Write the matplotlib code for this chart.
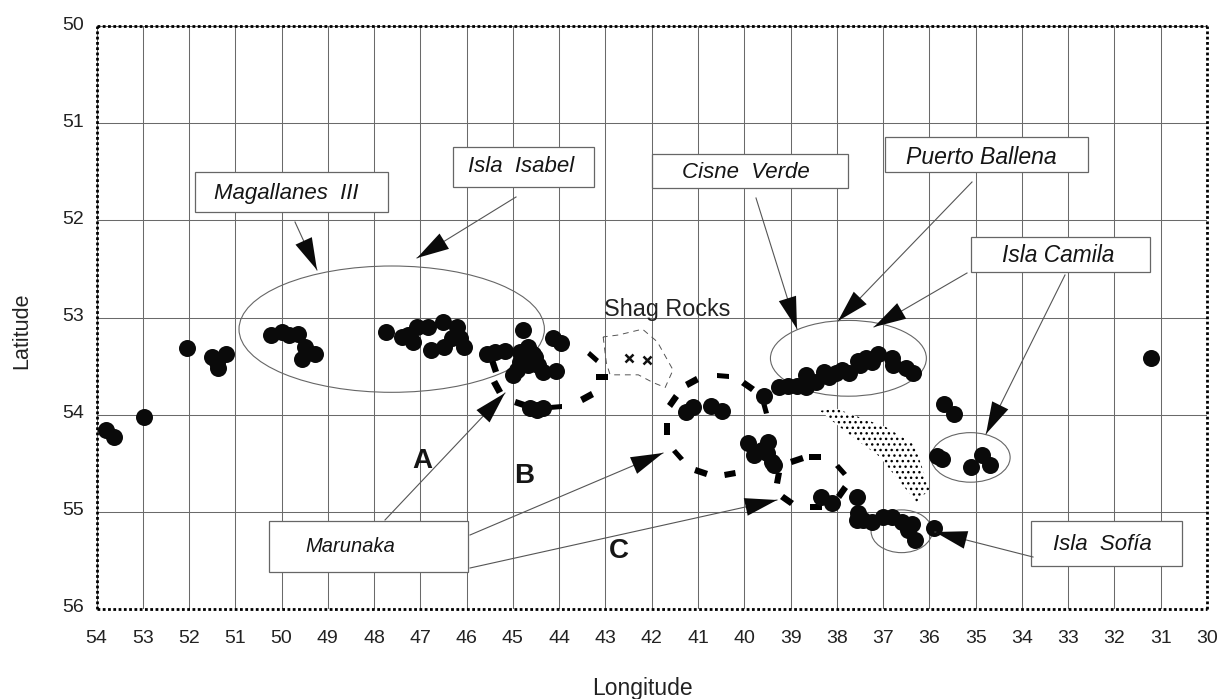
import matplotlib
matplotlib.use("Agg")
import numpy as np
import matplotlib.pyplot as plt
from matplotlib.patches import Ellipse, Polygon, Rectangle
from matplotlib.markers import MarkerStyle
from matplotlib.transforms import Affine2D, ScaledTranslation

plt.rcParams['font.family'] = ['Liberation Sans', 'DejaVu Sans']
W, H = 1221, 699

# --- data (longitude W, latitude S) ---
lon_ticks = list(range(54, 29, -1))
lat_ticks = list(range(50, 57))

west_lon = [53.79, 53.62, 52.97, 52.05, 51.50, 51.20, 51.38, 51.40]
west_lat = [54.16, 54.23, 54.02, 53.31, 53.41, 53.38, 53.52, 53.46]
g50_lon = [50.23, 49.99, 49.84, 49.65, 49.50, 49.28, 49.56]
g50_lat = [53.18, 53.15, 53.18, 53.17, 53.30, 53.38, 53.43]
g47_lon = [47.75, 47.40, 47.16, 47.27, 47.08, 46.84, 46.52, 46.21, 46.78, 46.49, 46.32, 46.15, 46.06]
g47_lat = [53.15, 53.20, 53.25, 53.18, 53.10, 53.10, 53.05, 53.10, 53.33, 53.30, 53.21, 53.21, 53.30]
g45_lon = [44.79, 45.57, 45.39, 45.18, 44.85, 44.68, 44.57, 44.85, 44.68, 45.00, 44.36, 44.08, 44.14, 43.97, 44.53, 44.92, 44.46, 44.64, 44.36, 44.49]
g45_lat = [53.13, 53.38, 53.36, 53.34, 53.36, 53.30, 53.38, 53.46, 53.49, 53.59, 53.56, 53.55, 53.21, 53.26, 53.41, 53.54, 53.49, 53.93, 53.93, 53.95]
g41_lon = [41.25, 41.10, 40.71, 40.49, 39.58]
g41_lat = [53.97, 53.92, 53.91, 53.96, 53.81]
cisne_lon = [39.24, 39.06, 38.87, 38.66, 38.66, 38.44, 38.27, 38.01, 38.16, 37.73, 37.88, 37.55, 37.36, 37.23, 37.12, 36.80, 36.78, 36.50, 36.35, 37.51]
cisne_lat = [53.72, 53.71, 53.71, 53.59, 53.72, 53.66, 53.56, 53.57, 53.61, 53.57, 53.54, 53.45, 53.42, 53.46, 53.38, 53.42, 53.49, 53.52, 53.57, 53.49]
east_lon = [35.68, 35.46, 35.83, 35.72, 34.86, 35.10, 34.69, 31.21]
east_lat = [53.89, 53.99, 54.43, 54.46, 54.41, 54.54, 54.52, 53.42]
g40_lon = [39.91, 39.48, 39.78, 39.50, 39.41, 39.35, 39.61]
g40_lat = [54.29, 54.28, 54.41, 54.39, 54.49, 54.52, 54.36]
sofia_lon = [38.35, 38.11, 37.57, 37.55, 37.44, 37.25, 37.01, 36.80, 36.60, 36.37, 36.47, 36.32, 35.89, 37.57]
sofia_lat = [54.85, 54.91, 54.85, 55.01, 55.08, 55.10, 55.05, 55.05, 55.10, 55.13, 55.19, 55.29, 55.17, 55.08]

route_lon = [45.41, 45.35, 43.28, 43.08, 43.41, 44.83, 44.08, 41.12, 41.53, 41.66, 41.44, 40.94, 40.31, 39.28, 38.87, 38.48, 37.92, 37.88, 39.07, 40.46, 39.91, 39.55, 38.44]
route_lat = [53.50, 53.72, 53.41, 53.61, 53.82, 53.89, 53.92, 53.66, 53.86, 54.15, 54.41, 54.59, 54.61, 54.65, 54.47, 54.44, 54.57, 54.80, 54.88, 53.60, 53.70, 53.93, 54.95]
route_ang = [-70, -60, -40, 0, 30, -20, 5, 30, 55, 90, -50, -20, 10, 80, 20, 0, -50, 55, -35, -5, -35, -75, 0]

shade_lon = [38.37, 38.00, 36.93, 36.32, 36.00, 36.28, 37.08, 37.77]
shade_lat = [53.96, 53.94, 54.13, 54.31, 54.77, 54.90, 54.43, 54.19]
shag_lon = [43.05, 42.98, 42.90, 42.29, 41.97, 41.71, 41.54, 41.88, 42.20, 42.72, 43.05]
shag_lat = [53.20, 53.47, 53.59, 53.59, 53.67, 53.72, 53.54, 53.25, 53.12, 53.18, 53.20]
rocks_lon = [42.50, 42.10]
rocks_lat = [53.42, 53.44]

ell_mag = (47.62, 53.12, 6.60, 1.30)
ell_cis = (37.75, 53.42, 3.37, 0.78)
ell_cam = (35.11, 54.44, 1.71, 0.51)
ell_sof = (36.60, 55.20, 1.32, 0.44)

labels = ["Magallanes  III", "Isla  Isabel", "Cisne  Verde", "Puerto Ballena", "Isla Camila", "Isla  Sofía", "Marunaka"]

# --- layout, in reference pixels ---
L, R, T, B = 96.5, 1207, 26, 609
boxes = [(195, 388, 172, 212), (453, 594, 147, 187), (652, 848, 154, 188),
         (885, 1088, 137, 172), (971, 1150, 237, 272), (1031, 1182, 521, 566), (269, 468, 521, 572)]
text_xy = [(286, 194), (521, 167), (746, 172), (981, 157), (1058, 255), (1102, 544), (350, 546)]
text_size = [16, 16, 16, 16.6, 16.4, 16, 14.5]
arrows = [(295, 222, 317, 270), (516, 197, 417, 258), (756, 198, 797, 329), (972, 182, 838, 321),
          (967, 273, 874, 327), (1065, 275, 986, 434), (1033, 557, 935, 532),
          (385, 520, 505, 393), (470, 535, 663, 453), (470, 568, 777, 500)]

fx = lambda p: p / W
fy = lambda p: 1 - p / H

fig = plt.figure(figsize=(W / 100, H / 100), dpi=100, facecolor='white')
ax = fig.add_axes([fx(L), fy(B), (R - L) / W, (B - T) / H])
ax.set_xlim(54, 30)
ax.set_ylim(56, 50)
ax.set_xticks(lon_ticks)
ax.set_yticks(lat_ticks)
ax.tick_params(length=0, labelsize=14, colors='#222222')
ax.tick_params(axis='x', pad=15)
ax.tick_params(axis='y', pad=9)
up = ScaledTranslation(0, 3 / 100, fig.dpi_scale_trans)
for t in ax.yaxis.get_major_ticks():
    t.label1.set_transform(t.label1.get_transform() + up)
ax.grid(True, color='#6a6a6a', lw=0.75)
ax.set_axisbelow(True)
for s in ax.spines.values():
    s.set_linestyle((0, (1, 0.9)))
    s.set_linewidth(2.0)
    s.set_capstyle('butt')
    s.set_color('black')
fig.text(fx(642), fy(688), "Longitude", ha='center', va='center', fontsize=16.5, color='#222222')
fig.text(fx(22), fy(331), "Latitude", ha='center', va='center', rotation=90, fontsize=15.5, color='#222222')

# shaded area and Shag Rocks
ax.add_patch(Polygon(np.column_stack([shade_lon, shade_lat]), closed=True, fc='white', ec='black',
                     lw=0, hatch='...', zorder=2))
ax.plot(shag_lon, shag_lat, color='#555555', lw=0.7, ls=(0, (6, 5)), zorder=2)
ax.plot(rocks_lon, rocks_lat, ls='none', marker='x', ms=6, mew=1.8, color='#111111', zorder=2)

# ellipses
for (cx, cy, w, h) in (ell_mag, ell_cis, ell_cam, ell_sof):
    ax.add_patch(Ellipse((cx, cy), w, h, fc='none', ec='#666666', lw=0.8, zorder=3))

# dashed routes
for x, y, a in zip(route_lon, route_lat, route_ang):
    m = MarkerStyle('s', transform=Affine2D().scale(1, 0.5).rotate_deg(a))
    ax.plot([x], [y], ls='none', marker=m, ms=8.5, mfc='black', mec='black', mew=0, zorder=4)

# stations
for xs, ys in ((west_lon, west_lat), (g50_lon, g50_lat), (g47_lon, g47_lat), (g45_lon, g45_lat),
               (g41_lon, g41_lat), (cisne_lon, cisne_lat), (east_lon, east_lat), (g40_lon, g40_lat),
               (sofia_lon, sofia_lat)):
    ax.scatter(xs, ys, s=150, c='#0a0a0a', linewidths=0, zorder=5, clip_on=False)

tf = fig.transFigure
# label boxes
for (x0, x1, y0, y1), (tx, ty), s, fs in zip(boxes, text_xy, labels, text_size):
    ax.add_patch(Rectangle((fx(x0), fy(y1)), (x1 - x0) / W, (y1 - y0) / H, transform=tf, fc='white',
                           ec='#666666', lw=0.9, zorder=6, clip_on=False))
    ax.text(fx(tx), fy(ty), s, transform=tf, ha='center', va='center', fontsize=fs, style='italic',
            color='#151515', zorder=7)

# arrows
for x0, y0, x1, y1 in arrows:
    ax.plot([fx(x0), fx(x1)], [fy(y0), fy(y1)], transform=tf, color='#555555', lw=0.8, zorder=6, clip_on=False)
    d = np.array([x1 - x0, y1 - y0], float)
    d /= np.hypot(*d)
    n = np.array([-d[1], d[0]])
    tip = np.array([x1, y1], float)
    base = tip - 32 * d
    pts = [tip, base + 9 * n, base - 9 * n]
    ax.add_patch(Polygon([(fx(p[0]), fy(p[1])) for p in pts], closed=True, transform=tf, fc='#0a0a0a',
                         ec='none', zorder=6, clip_on=False))

ax.text(fx(667), fy(309), "Shag Rocks", transform=tf, ha='center', va='center', fontsize=16.8, color='#222222', zorder=7)
for s, x, y in (("A", 422, 461), ("B", 524, 476), ("C", 619, 551)):
    ax.text(fx(x), fy(y), s, transform=tf, ha='center', va='center', fontsize=20, fontweight='bold',
            color='#151515', zorder=7)

fig.savefig('out.png', dpi=100, facecolor='white')
